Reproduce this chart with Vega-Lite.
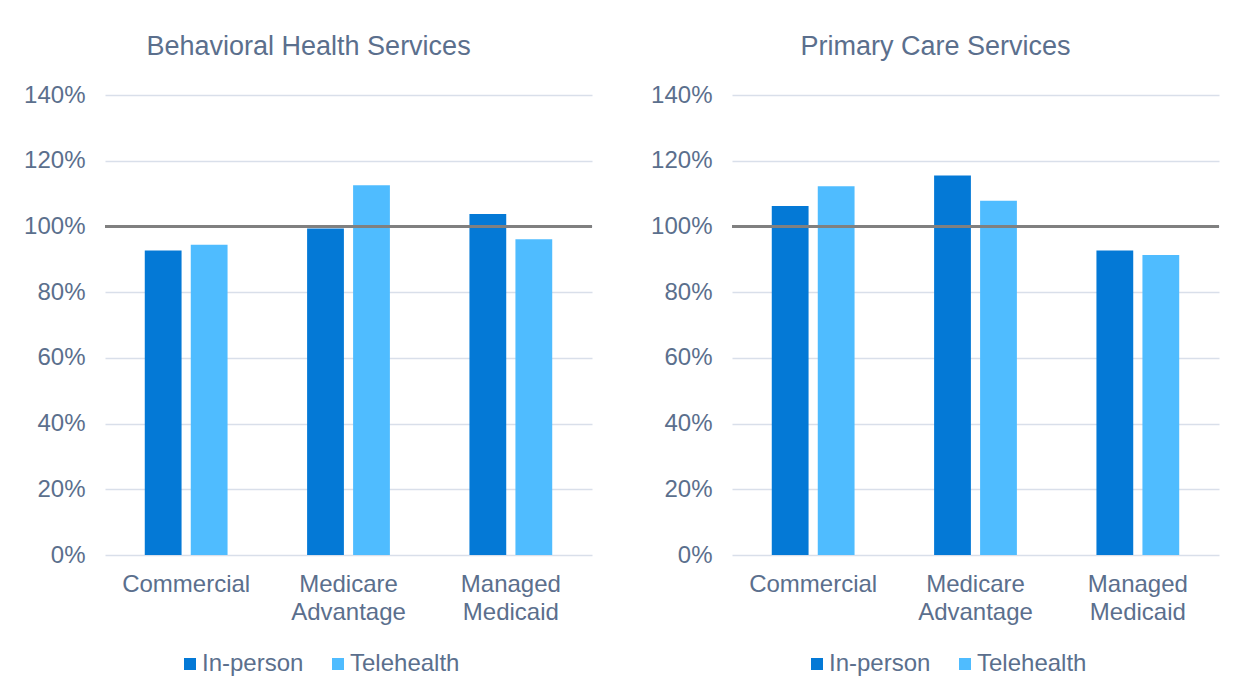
{
  "$schema": "https://vega.github.io/schema/vega-lite/v6.json",
  "padding": {"left": 23, "top": 33, "right": 20, "bottom": 5},
  "background": "white",
  "config": {
    "font": "Liberation Sans",
    "view": {"stroke": null},
    "axis": {"labelFont": "Liberation Sans", "labelColor": "#5b6f8d", "labelFontSize": 24, "grid": false, "domain": false, "ticks": false, "title": null},
    "title": {"font": "Liberation Sans", "fontSize": 27, "fontWeight": "normal", "color": "#5b6f8d", "anchor": "middle", "frame": "bounds", "offset": 22},
    "legend": {"orient": "none", "legendX": 73, "legendY": 557, "direction": "horizontal", "title": null, "symbolType": "square", "symbolSize": 144, "symbolStrokeWidth": 0, "labelFont": "Liberation Sans", "labelFontSize": 24, "labelColor": "#5b6f8d", "columnPadding": 22, "labelOffset": 0}
  },
  "data": {"values": [
    {"panel": "Behavioral Health Services", "category": "Commercial", "type": "In-person", "value": 0.927},
    {"panel": "Behavioral Health Services", "category": "Commercial", "type": "Telehealth", "value": 0.944},
    {"panel": "Behavioral Health Services", "category": "Medicare Advantage", "type": "In-person", "value": 0.994},
    {"panel": "Behavioral Health Services", "category": "Medicare Advantage", "type": "Telehealth", "value": 1.125},
    {"panel": "Behavioral Health Services", "category": "Managed Medicaid", "type": "In-person", "value": 1.038},
    {"panel": "Behavioral Health Services", "category": "Managed Medicaid", "type": "Telehealth", "value": 0.961},
    {"panel": "Primary Care Services", "category": "Commercial", "type": "In-person", "value": 1.062},
    {"panel": "Primary Care Services", "category": "Commercial", "type": "Telehealth", "value": 1.122},
    {"panel": "Primary Care Services", "category": "Medicare Advantage", "type": "In-person", "value": 1.155},
    {"panel": "Primary Care Services", "category": "Medicare Advantage", "type": "Telehealth", "value": 1.078},
    {"panel": "Primary Care Services", "category": "Managed Medicaid", "type": "In-person", "value": 0.927},
    {"panel": "Primary Care Services", "category": "Managed Medicaid", "type": "Telehealth", "value": 0.913}
  ]},
  "spacing": 56,
  "resolve": {"legend": {"color": "independent"}},
  "hconcat": [
    {
      "title": "Behavioral Health Services",
      "width": 487, "height": 460,
      "layer": [
        {
          "transform": [{"filter": "datum.panel === 'Behavioral Health Services'"}],
          "mark": {"type": "bar"},
          "encoding": {
            "x": {"field": "category", "type": "nominal", "sort": ["Commercial", "Medicare Advantage", "Managed Medicaid"], "scale": {"paddingInner": 0.49, "paddingOuter": 0.245}, "axis": {"labelAngle": 0, "labelPadding": 17, "labelLineHeight": 28, "labelExpr": "split(datum.label, ' ')", "title": null}},
            "xOffset": {"field": "type", "type": "nominal", "sort": ["In-person", "Telehealth"], "scale": {"paddingInner": 0.2, "paddingOuter": 0}},
            "y": {"field": "value", "type": "quantitative", "scale": {"domain": [0, 1.4]}, "axis": {"values": [0, 0.2, 0.4, 0.6, 0.8, 1.0, 1.2, 1.4], "format": ".0%", "grid": true, "gridColor": "#d9dfea", "gridWidth": 1.5, "labelPadding": 20, "title": null}},
            "color": {"field": "type", "type": "nominal", "scale": {"domain": ["In-person", "Telehealth"], "range": ["#0479d6", "#4fbcff"]}}
          }
        },
        {
          "data": {"values": [{"value": 1.0}]},
          "mark": {"type": "rule", "color": "#808080", "strokeWidth": 3},
          "encoding": {"y": {"field": "value", "type": "quantitative"}}
        }
      ]
    },
    {
      "title": "Primary Care Services",
      "width": 487, "height": 460,
      "layer": [
        {
          "transform": [{"filter": "datum.panel === 'Primary Care Services'"}],
          "mark": {"type": "bar"},
          "encoding": {
            "x": {"field": "category", "type": "nominal", "sort": ["Commercial", "Medicare Advantage", "Managed Medicaid"], "scale": {"paddingInner": 0.49, "paddingOuter": 0.245}, "axis": {"labelAngle": 0, "labelPadding": 17, "labelLineHeight": 28, "labelExpr": "split(datum.label, ' ')", "title": null}},
            "xOffset": {"field": "type", "type": "nominal", "sort": ["In-person", "Telehealth"], "scale": {"paddingInner": 0.2, "paddingOuter": 0}},
            "y": {"field": "value", "type": "quantitative", "scale": {"domain": [0, 1.4]}, "axis": {"values": [0, 0.2, 0.4, 0.6, 0.8, 1.0, 1.2, 1.4], "format": ".0%", "grid": true, "gridColor": "#d9dfea", "gridWidth": 1.5, "labelPadding": 20, "title": null}},
            "color": {"field": "type", "type": "nominal", "scale": {"domain": ["In-person", "Telehealth"], "range": ["#0479d6", "#4fbcff"]}}
          }
        },
        {
          "data": {"values": [{"value": 1.0}]},
          "mark": {"type": "rule", "color": "#808080", "strokeWidth": 3},
          "encoding": {"y": {"field": "value", "type": "quantitative"}}
        }
      ]
    }
  ]
}
